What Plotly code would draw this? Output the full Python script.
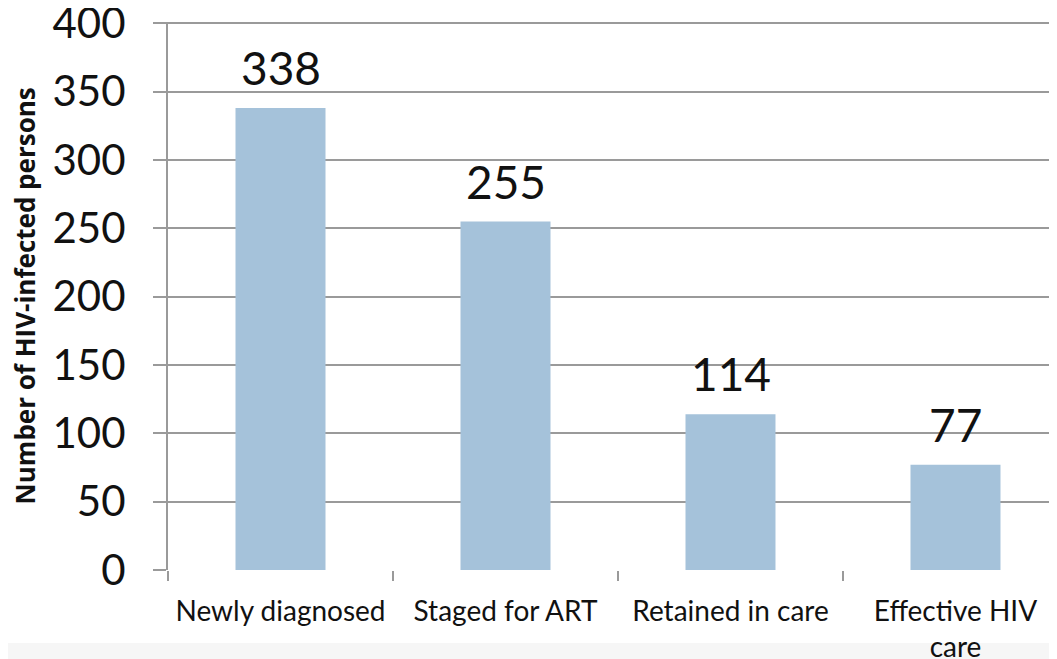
import plotly.graph_objects as go

categories = ["Newly diagnosed", "Staged for ART", "Retained in care", "Effective HIV<br>care"]
values = [338, 255, 114, 77]
value_labels = ["338", "255", "114", "77"]
y_ticks = [0, 50, 100, 150, 200, 250, 300, 350, 400]

BAR_COLOR = "#A5C2DA"
GRID = "#9a9a9a"
FONT = "Lato, 'Open Sans', sans-serif"

fig = go.Figure()
fig.add_trace(go.Bar(x=categories, y=values, marker=dict(color=BAR_COLOR, line=dict(width=0)),
                     width=0.4, hoverinfo="skip"))

for c, v, t in zip(categories, values, value_labels):
    fig.add_annotation(x=c, y=v, text=t, showarrow=False, yanchor="bottom", yshift=11,
                       font=dict(family=FONT, size=46, color="#111111"))

fig.add_annotation(xref="paper", yref="paper", x=-0.159, y=0.5, xanchor="center", yanchor="middle",
                   text="<b>Number of HIV-infected persons</b>", textangle=-90, showarrow=False,
                   font=dict(family="'Open Sans', sans-serif", size=26, color="#111111"))

fig.add_shape(type="rect", xref="paper", yref="paper", x0=-0.3, x1=1.02, y0=-0.3, y1=-0.133,
              fillcolor="#f6f6f6", line=dict(width=0), layer="below")

fig.update_layout(
    width=1057, height=659,
    margin=dict(l=160, r=0, t=14, b=97, autoexpand=False),
    paper_bgcolor="white", plot_bgcolor="white",
    showlegend=False,
    xaxis=dict(type="category", range=[-0.5, 3.4867], tickson="boundaries", automargin=False,
               ticks="outside", ticklen=10, tickcolor=GRID, tickwidth=2, tickangle=0,
               showline=False, showgrid=False, zeroline=False, ticklabelstandoff=22,
               tickfont=dict(family=FONT, size=28, color="#111111")),
    yaxis=dict(range=[0, 401], tickvals=y_ticks, ticks="outside", ticklen=13, automargin=False,
               tickcolor=GRID, tickwidth=2, showgrid=True, gridcolor=GRID, gridwidth=2,
               showline=True, linecolor=GRID, linewidth=2, zeroline=False, ticklabelstandoff=19,
               ticklabeloverflow="allow",
               tickfont=dict(family=FONT, size=42, color="#111111")),
)
fig.write_html("out.html")
